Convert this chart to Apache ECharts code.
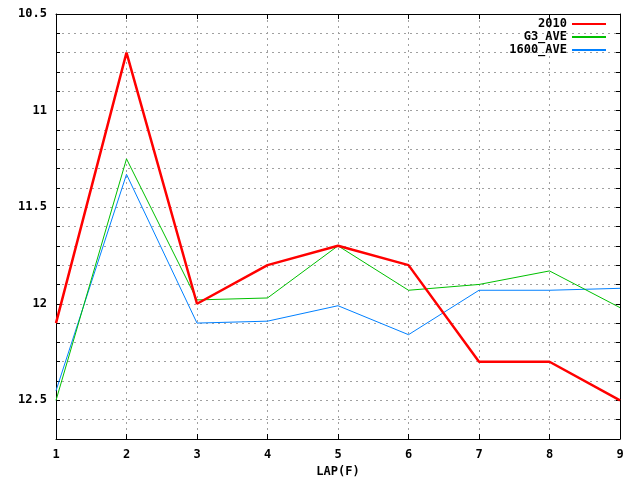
<!DOCTYPE html>
<html>
<head>
<meta charset="utf-8">
<script src="https://cdn.jsdelivr.net/npm/echarts@6/dist/echarts.min.js"></script>
<style>
  html, body { margin: 0; padding: 0; background: #fff; }
  #chart { width: 640px; height: 480px; }
</style>
</head>
<body>
<div id="chart"></div>
<script>
// 数据
const laps = [1, 2, 3, 4, 5, 6, 7, 8, 9];
const seriesNames = ['2010', 'G3_AVE', '1600_AVE'];
const values2010 = [12.1, 10.7, 12.0, 11.8, 11.7, 11.8, 12.3, 12.3, 12.5];
const valuesG3 = [12.5, 11.25, 11.98, 11.97, 11.7, 11.93, 11.9, 11.83, 12.02];
const values1600 = [12.45, 11.33, 12.1, 12.09, 12.01, 12.16, 11.93, 11.93, 11.92];
const yLabelValues = [10.5, 11, 11.5, 12, 12.5];

const font = 'DejaVu Sans Mono';
const colors = ['#ff0000', '#00c000', '#0080ff'];
const widths = [2.5, 1, 1];

const chart = echarts.init(document.getElementById('chart'));

const pairs = (vals) => laps.map((x, i) => [x, vals[i]]);

const gridLine = { show: true, lineStyle: { color: '#a0a0a0', type: [2, 4], width: 1 } };

chart.setOption({
  animation: false,
  backgroundColor: '#fff',
  grid: { left: 56, right: 20, top: 14, bottom: 41, containLabel: false, outerBoundsMode: 'none' },
  legend: {
    orient: 'vertical',
    right: 28,
    top: 13,
    align: 'right',
    itemWidth: 34,
    itemHeight: 12,
    itemGap: 1,
    itemStyle: { opacity: 0 },
    textStyle: { fontFamily: font, fontWeight: 'bold', fontSize: 12, color: '#000' },
    data: seriesNames
  },
  xAxis: [{
    type: 'value',
    min: 1,
    max: 9,
    interval: 1,
    name: 'LAP(F)',
    nameLocation: 'middle',
    nameGap: 27,
    nameTextStyle: { fontFamily: font, fontWeight: 'bold', fontSize: 12, color: '#000' },
    axisLine: { lineStyle: { color: '#000', width: 1 } },
    axisTick: { inside: true, length: 5, lineStyle: { color: '#000' } },
    axisLabel: { fontFamily: font, fontWeight: 'bold', fontSize: 12, color: '#000', margin: 10 },
    splitLine: gridLine
  }, {
    type: 'value',
    position: 'top',
    min: 1,
    max: 9,
    interval: 1,
    axisLine: { show: true, lineStyle: { color: '#000', width: 1 } },
    axisTick: { show: true, inside: true, length: 5, lineStyle: { color: '#000' } },
    axisLabel: { show: false },
    splitLine: { show: false }
  }],
  yAxis: [{
    type: 'value',
    inverse: true,
    min: 10.5,
    max: 12.7,
    interval: 0.1,
    axisLine: { show: true, lineStyle: { color: '#000', width: 1 } },
    axisTick: { show: true, inside: true, length: 4, lineStyle: { color: '#000' } },
    axisLabel: {
      fontFamily: font, fontWeight: 'bold', fontSize: 12, color: '#000', margin: 9,
      formatter: (v) => {
        const hit = yLabelValues.find(t => Math.abs(t - v) < 1e-6);
        return hit === undefined ? '' : String(hit);
      }
    },
    splitLine: gridLine
  }, {
    type: 'value',
    position: 'right',
    inverse: true,
    min: 10.5,
    max: 12.7,
    interval: 0.1,
    axisLine: { show: true, lineStyle: { color: '#000', width: 1 } },
    axisTick: { show: true, inside: true, length: 4, lineStyle: { color: '#000' } },
    axisLabel: { show: false },
    splitLine: { show: false }
  }],
  series: [values2010, valuesG3, values1600].map((vals, i) => ({
    name: seriesNames[i],
    type: 'line',
    data: pairs(vals),
    symbol: 'none',
    lineStyle: { color: colors[i], width: widths[i] },
    itemStyle: { color: colors[i] },
    z: 10 - i
  }))
});
</script>
</body>
</html>
